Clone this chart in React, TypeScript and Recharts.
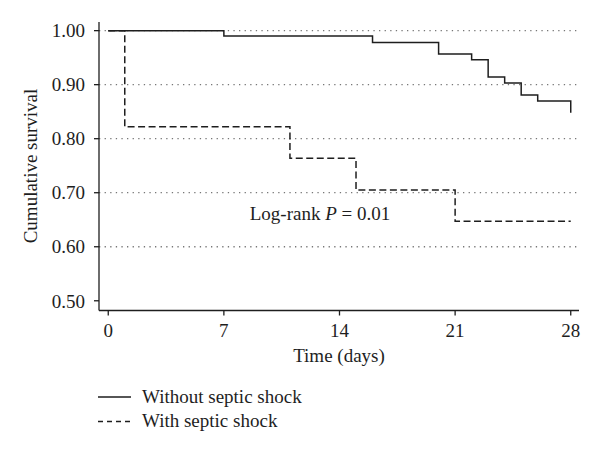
import React from "react";
import {
  LineChart,
  Line,
  XAxis,
  YAxis,
  ReferenceLine,
  Customized,
} from "recharts";

// Kaplan-Meier steps
const withoutShockDays = [0, 7, 16, 20, 22, 23, 24, 25, 26, 28];
const withoutShockSurv = [1.0, 0.99, 0.978, 0.957, 0.946, 0.914, 0.903, 0.881, 0.87, 0.848];

const withShockDays = [0, 1, 11, 15, 21, 28];
const withShockSurv = [1.0, 0.822, 0.764, 0.705, 0.647, 0.647];

const xTicks = [0, 7, 14, 21, 28];
const yTicks = [0.5, 0.6, 0.7, 0.8, 0.9, 1.0];
const gridValues = [0.6, 0.7, 0.8, 0.9, 1.0];

const seriesNames = ["Without septic shock", "With septic shock"];

const withoutShock = withoutShockDays.map((t, i) => ({ t, s: withoutShockSurv[i] }));
const withShock = withShockDays.map((t, i) => ({ t, s: withShockSurv[i] }));

const FONT = "'Liberation Serif', 'Times New Roman', serif";
const INK = "#1e1e1e";
const FS = 19;

function Annotations() {
  return (
    <g fontFamily={FONT} fill={INK}>
      <text x={320} y={220} fontSize={FS} textAnchor="middle">
        Log-rank <tspan fontStyle="italic">P</tspan> = 0.01
      </text>
      <text x={339} y={362} fontSize={FS} textAnchor="middle">
        Time (days)
      </text>
      <text
        x={37}
        y={166}
        fontSize={FS}
        textAnchor="middle"
        transform="rotate(-90 37 166)"
      >
        Cumulative survival
      </text>
    </g>
  );
}

function LegendBox() {
  return (
    <svg width={300} height={50} style={{ position: "absolute", left: 90, top: 384 }}>
      <g fontFamily={FONT} fill={INK} fontSize={FS}>
        <line x1={8} x2={41} y1={13} y2={13} stroke={INK} strokeWidth={1.4} />
        <text x={52} y={19}>{seriesNames[0]}</text>
        <line x1={8} x2={41} y1={37.5} y2={37.5} stroke={INK} strokeWidth={1.4} strokeDasharray="5 4" />
        <text x={52} y={43}>{seriesNames[1]}</text>
      </g>
    </svg>
  );
}

export default function App() {
  return (
    <div style={{ position: "absolute", left: 0, top: 0, width: 600, height: 455, background: "#fff" }}>
      <LineChart
        width={600}
        height={455}
        margin={{ top: 22, right: 21, left: 0, bottom: 99.5 }}
      >
        <XAxis
          type="number"
          dataKey="t"
          domain={[-0.56, 28.5]}
          ticks={xTicks}
          allowDataOverflow
          height={45}
          tick={{ fill: INK, fontSize: FS, fontFamily: FONT }}
          tickSize={5}
          tickMargin={8}
          stroke={INK}
          strokeWidth={1.3}
        />
        <YAxis
          type="number"
          domain={[0.482, 1.016]}
          ticks={yTicks}
          allowDataOverflow
          width={99}
          tickFormatter={(v: number) => v.toFixed(2)}
          tick={{ fill: INK, fontSize: FS, fontFamily: FONT }}
          tickSize={5}
          tickMargin={9}
          stroke={INK}
          strokeWidth={1.3}
        />
        {gridValues.map((v) => (
          <ReferenceLine
            key={v}
            y={v}
            stroke="#777"
            strokeWidth={1.3}
            strokeDasharray="1.3 4.3"
          />
        ))}
        <Line
          data={withoutShock}
          dataKey="s"
          name={seriesNames[0]}
          type="stepAfter"
          stroke={INK}
          strokeWidth={1.5}
          dot={false}
          activeDot={false}
          isAnimationActive={false}
        />
        <Line
          data={withShock}
          dataKey="s"
          name={seriesNames[1]}
          type="stepAfter"
          stroke={INK}
          strokeWidth={1.5}
          strokeDasharray="7 3.5"
          dot={false}
          activeDot={false}
          isAnimationActive={false}
        />
        <Customized component={<Annotations />} />
      </LineChart>
      <LegendBox />
    </div>
  );
}
